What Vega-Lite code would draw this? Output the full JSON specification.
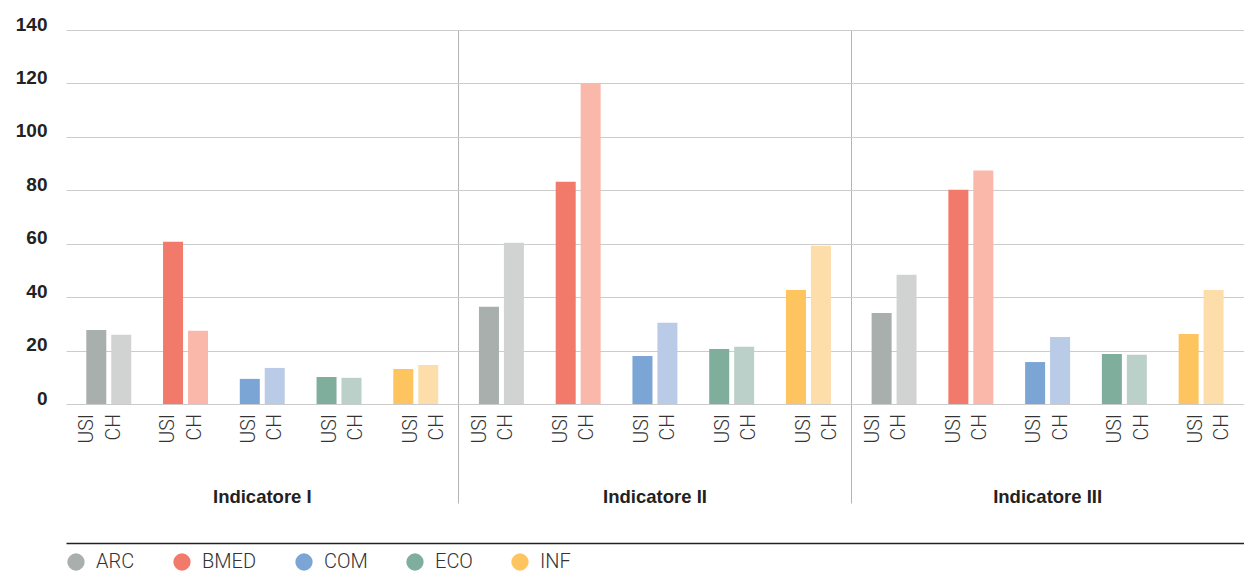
{
  "$schema": "https://vega.github.io/schema/vega-lite/v6.json",
  "padding": {"left": 15, "top": 15, "right": 0, "bottom": 0},
  "background": "white",
  "width": 1178,
  "height": 374,
  "data": {"values": [
    {"indicator": "Indicatore I", "category": "ARC", "series": "USI", "value": 27.7},
    {"indicator": "Indicatore I", "category": "ARC", "series": "CH", "value": 25.9},
    {"indicator": "Indicatore I", "category": "BMED", "series": "USI", "value": 60.7},
    {"indicator": "Indicatore I", "category": "BMED", "series": "CH", "value": 27.4},
    {"indicator": "Indicatore I", "category": "COM", "series": "USI", "value": 9.4},
    {"indicator": "Indicatore I", "category": "COM", "series": "CH", "value": 13.5},
    {"indicator": "Indicatore I", "category": "ECO", "series": "USI", "value": 10.1},
    {"indicator": "Indicatore I", "category": "ECO", "series": "CH", "value": 9.8},
    {"indicator": "Indicatore I", "category": "INF", "series": "USI", "value": 13.1},
    {"indicator": "Indicatore I", "category": "INF", "series": "CH", "value": 14.6},
    {"indicator": "Indicatore II", "category": "ARC", "series": "USI", "value": 36.4},
    {"indicator": "Indicatore II", "category": "ARC", "series": "CH", "value": 60.4},
    {"indicator": "Indicatore II", "category": "BMED", "series": "USI", "value": 83.2},
    {"indicator": "Indicatore II", "category": "BMED", "series": "CH", "value": 120.2},
    {"indicator": "Indicatore II", "category": "COM", "series": "USI", "value": 18.0},
    {"indicator": "Indicatore II", "category": "COM", "series": "CH", "value": 30.4},
    {"indicator": "Indicatore II", "category": "ECO", "series": "USI", "value": 20.6},
    {"indicator": "Indicatore II", "category": "ECO", "series": "CH", "value": 21.4},
    {"indicator": "Indicatore II", "category": "INF", "series": "USI", "value": 42.7},
    {"indicator": "Indicatore II", "category": "INF", "series": "CH", "value": 59.2},
    {"indicator": "Indicatore III", "category": "ARC", "series": "USI", "value": 34.1},
    {"indicator": "Indicatore III", "category": "ARC", "series": "CH", "value": 48.4},
    {"indicator": "Indicatore III", "category": "BMED", "series": "USI", "value": 80.2},
    {"indicator": "Indicatore III", "category": "BMED", "series": "CH", "value": 87.4},
    {"indicator": "Indicatore III", "category": "COM", "series": "USI", "value": 15.7},
    {"indicator": "Indicatore III", "category": "COM", "series": "CH", "value": 25.1},
    {"indicator": "Indicatore III", "category": "ECO", "series": "USI", "value": 18.7},
    {"indicator": "Indicatore III", "category": "ECO", "series": "CH", "value": 18.4},
    {"indicator": "Indicatore III", "category": "INF", "series": "USI", "value": 26.2},
    {"indicator": "Indicatore III", "category": "INF", "series": "CH", "value": 42.7}
  ]},
  "layer": [
    {
      "transform": [{"filter": "datum.series === 'USI'"}],
      "mark": {"type": "bar"},
      "encoding": {
        "x": {
          "field": "indicator", "type": "nominal",
          "scale": {"paddingInner": 0, "paddingOuter": 0},
          "axis": {
            "orient": "bottom", "bandPosition": 0, "labels": false, "domain": false, "title": null,
            "ticks": true, "tickSize": 99, "tickWidth": 1,
            "tickColor": {"condition": {"test": "datum.value === 'Indicatore I'", "value": "transparent"}, "value": "#b4b4b4"},
            "grid": true, "gridWidth": 1,
            "gridColor": {"condition": {"test": "datum.value === 'Indicatore I'", "value": "transparent"}, "value": "#b4b4b4"}
          }
        },
        "xOffset": {
          "field": "category", "type": "nominal",
          "scale": {"domain": ["ARC", "BMED", "COM", "ECO", "INF"], "paddingInner": 0.7394, "paddingOuter": 0.4277, "align": 0.309}
        },
        "y": {
          "field": "value", "type": "quantitative", "title": null,
          "scale": {"domain": [0, 140]},
          "axis": {"values": [0, 20, 40, 60, 80, 100, 120, 140]}
        },
        "color": {
          "field": "category", "type": "nominal",
          "scale": {"domain": ["ARC", "BMED", "COM", "ECO", "INF"], "range": ["#a8afac", "#f27a6b", "#7ba5d5", "#7fae9d", "#fdc460"]},
          "legend": {"title": null}
        }
      }
    },
    {
      "transform": [{"filter": "datum.series === 'CH'"}],
      "mark": {"type": "bar"},
      "encoding": {
        "x": {"field": "indicator", "type": "nominal", "axis": null},
        "xOffset": {
          "field": "category", "type": "nominal",
          "scale": {"domain": ["ARC", "BMED", "COM", "ECO", "INF"], "paddingInner": 0.7394, "paddingOuter": 0.4277, "align": 0.689}
        },
        "y": {"field": "value", "type": "quantitative", "title": null},
        "color": {
          "field": "category", "type": "nominal",
          "scale": {"domain": ["ARC", "BMED", "COM", "ECO", "INF"], "range": ["#d1d3d2", "#f9b8a9", "#b9cbe7", "#bbd0c8", "#fddeaa"]},
          "legend": null
        }
      }
    },
    {
      "transform": [{"filter": "datum.series === 'USI'"}],
      "mark": {"type": "text", "angle": 270, "align": "right", "baseline": "middle", "dx": -10, "font": "Roboto", "fontSize": 19.5, "fontWeight": 300, "color": "#333333"},
      "encoding": {
        "x": {"field": "indicator", "type": "nominal", "axis": null},
        "xOffset": {
          "field": "category", "type": "nominal",
          "scale": {"domain": ["ARC", "BMED", "COM", "ECO", "INF"], "paddingInner": 0.7394, "paddingOuter": 0.4277, "align": 0.309}
        },
        "y": {"datum": 0, "type": "quantitative"},
        "text": {"field": "series"}
      }
    },
    {
      "transform": [{"filter": "datum.series === 'CH'"}],
      "mark": {"type": "text", "angle": 270, "align": "right", "baseline": "middle", "dx": -10, "font": "Roboto", "fontSize": 19.5, "fontWeight": 300, "color": "#333333"},
      "encoding": {
        "x": {"field": "indicator", "type": "nominal", "axis": null},
        "xOffset": {
          "field": "category", "type": "nominal",
          "scale": {"domain": ["ARC", "BMED", "COM", "ECO", "INF"], "paddingInner": 0.7394, "paddingOuter": 0.4277, "align": 0.689}
        },
        "y": {"datum": 0, "type": "quantitative"},
        "text": {"field": "series"}
      }
    },
    {
      "transform": [{"aggregate": [{"op": "count", "as": "n"}], "groupby": ["indicator"]}],
      "mark": {"type": "text", "align": "center", "baseline": "middle", "dy": 93, "font": "Liberation Sans", "fontSize": 18.5, "fontWeight": "bold", "color": "#222222"},
      "encoding": {
        "x": {
          "field": "indicator", "type": "nominal",
          "axis": {"orient": "bottom", "offset": 139, "domain": true, "domainColor": "#222222", "domainWidth": 1.5, "labels": false, "ticks": false, "grid": false, "title": null}
        },
        "y": {"datum": 0, "type": "quantitative"},
        "text": {"field": "indicator"}
      }
    }
  ],
  "resolve": {"scale": {"color": "independent", "xOffset": "independent"}, "axis": {"x": "independent"}},
  "config": {
    "view": {"stroke": null},
    "axisY": {
      "labelFont": "Liberation Sans", "labelFontSize": 19, "labelFontWeight": "bold", "labelColor": "#222222",
      "labelPadding": 19, "labelBaseline": "alphabetic", "labelFlush": false,
      "ticks": false, "domain": false,
      "grid": true, "gridColor": "#cccccc", "gridWidth": 1
    },
    "legend": {
      "orient": "bottom", "direction": "horizontal",
      "symbolType": "circle", "symbolSize": 300, "symbolStrokeWidth": 0, "symbolOpacity": 1,
      "labelFont": "Roboto", "labelFontSize": 20, "labelFontWeight": 300, "labelColor": "#333333",
      "labelOffset": 10, "columnPadding": 37, "offset": 9, "padding": 0
    }
  }
}
